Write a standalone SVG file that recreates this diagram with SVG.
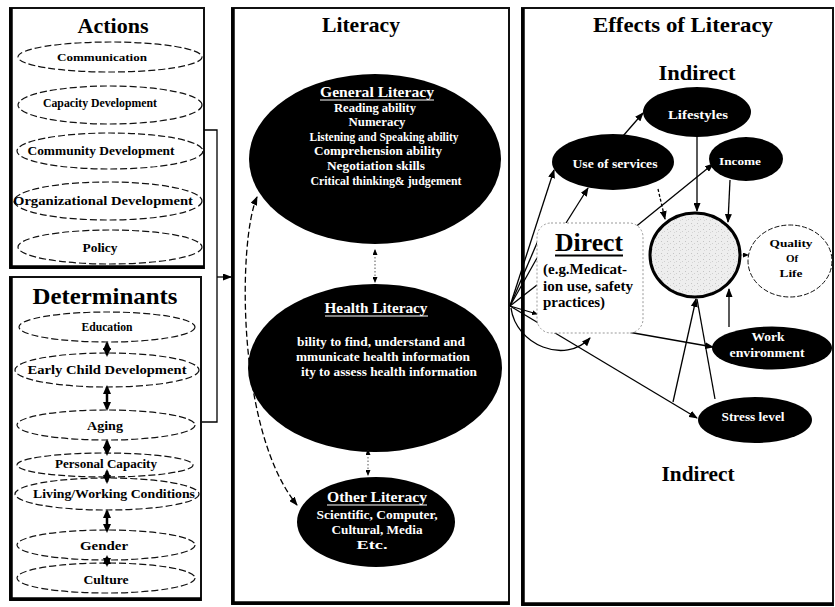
<svg xmlns="http://www.w3.org/2000/svg" width="835" height="607" viewBox="0 0 835 607">
<defs>
<marker id="ah" markerUnits="userSpaceOnUse" markerWidth="9" markerHeight="7" refX="8" refY="3.5" orient="auto-start-reverse"><path d="M0,0 L9,3.5 L0,7 z" fill="#000"/></marker>
<marker id="ahs" markerUnits="userSpaceOnUse" markerWidth="6" markerHeight="5" refX="5" refY="2.5" orient="auto-start-reverse"><path d="M0,0 L6,2.5 L0,5 z" fill="#000"/></marker>
<marker id="ahb" markerUnits="userSpaceOnUse" markerWidth="9" markerHeight="8" refX="7" refY="4" orient="auto-start-reverse"><path d="M0,0 L9,4 L0,8 z" fill="#000"/></marker>
<pattern id="noise" width="6" height="6" patternUnits="userSpaceOnUse"><rect width="6" height="6" fill="#eeeeee"/><rect x="1" y="1" width="1" height="1" fill="#c4c4c4"/><rect x="4" y="3" width="1" height="1" fill="#cfcfcf"/><rect x="2" y="4" width="1" height="1" fill="#d6d6d6"/></pattern>
</defs>
<style>
text{font-family:"Liberation Serif","Times New Roman",serif;font-weight:bold;fill:#000;}
.panel{fill:#fff;stroke:#111;stroke-width:2;}
.thick{stroke:#000;stroke-width:3.5;}
.de{fill:#fff;stroke:#111;stroke-width:1.2;stroke-dasharray:7 3;}
.bk{fill:#000;}
.w{fill:#fff;}
.m{text-anchor:middle;}
.h1{font-size:22px;}
.c{stroke:#000;stroke-width:1.3;fill:none;}
.dot{stroke:#555;stroke-width:1;fill:none;stroke-dasharray:1.5 2;}
.dd{stroke:#000;stroke-width:1.3;fill:none;stroke-dasharray:6 3;}
.da{stroke:#000;stroke-width:2.5;fill:none;}
</style>

<!-- panels -->
<g id="panel-actions">
<rect class="panel" x="10" y="8" width="194" height="260"/>
<line class="thick" x1="11" y1="8" x2="11" y2="268"/>
<line class="thick" x1="10" y1="267" x2="204" y2="267"/>
<text class="m h1" x="113" y="33" textLength="71" lengthAdjust="spacingAndGlyphs">Actions</text>
</g>
<g id="panel-determinants">
<rect class="panel" x="10" y="277" width="191" height="323"/>
<line class="thick" x1="11" y1="277" x2="11" y2="600"/>
<line class="thick" x1="10" y1="599" x2="201" y2="599"/>
<text class="m" x="105" y="304" font-size="24" textLength="145" lengthAdjust="spacingAndGlyphs">Determinants</text>
</g>
<g id="panel-literacy">
<rect class="panel" x="232" y="8" width="277" height="596"/>
<line class="thick" x1="233" y1="8" x2="233" y2="604"/>
<line class="thick" x1="232" y1="603" x2="509" y2="603"/>
<text class="m h1" x="361" y="32" textLength="78" lengthAdjust="spacingAndGlyphs">Literacy</text>
</g>
<g id="panel-effects">
<rect class="panel" x="522" y="8" width="311" height="597"/>
<line class="thick" x1="523" y1="8" x2="523" y2="605"/>
<line class="thick" x1="522" y1="604" x2="833" y2="604"/>
<text class="m h1" x="683" y="32" textLength="180" lengthAdjust="spacingAndGlyphs">Effects of Literacy</text>
<text class="m h1" x="697" y="80" textLength="77" lengthAdjust="spacingAndGlyphs">Indirect</text>
<text class="m h1" x="698" y="481" textLength="73" lengthAdjust="spacingAndGlyphs">Indirect</text>
</g>

<!-- Actions nodes -->
<g id="communication"><ellipse class="de" cx="110" cy="57" rx="92" ry="15"/><text class="m" x="102" y="61" font-size="11" textLength="90" lengthAdjust="spacingAndGlyphs">Communication</text></g>
<g id="capacity-development"><ellipse class="de" cx="110" cy="105" rx="92" ry="19"/><text class="m" x="100" y="107" font-size="12.5" textLength="114" lengthAdjust="spacingAndGlyphs">Capacity Development</text></g>
<g id="community-development"><ellipse class="de" cx="110" cy="151" rx="93" ry="18"/><text class="m" x="101" y="155" font-size="13" textLength="147" lengthAdjust="spacingAndGlyphs">Community Development</text></g>
<g id="organizational-development"><ellipse class="de" cx="108" cy="201" rx="94" ry="19"/><text class="m" x="103" y="205" font-size="13" textLength="180" lengthAdjust="spacingAndGlyphs">Organizational Development</text></g>
<g id="policy"><ellipse class="de" cx="110" cy="247" rx="92" ry="17"/><text class="m" x="100" y="252" font-size="12" textLength="35" lengthAdjust="spacingAndGlyphs">Policy</text></g>

<!-- Determinants nodes -->
<g id="education"><ellipse class="de" cx="107" cy="327" rx="88" ry="15"/><text class="m" x="107" y="331" font-size="12" textLength="51" lengthAdjust="spacingAndGlyphs">Education</text></g>
<g id="early-child-development"><ellipse class="de" cx="107" cy="370" rx="92" ry="17"/><text class="m" x="107" y="374" font-size="12.5" textLength="159" lengthAdjust="spacingAndGlyphs">Early Child Development</text></g>
<g id="aging"><ellipse class="de" cx="106" cy="425" rx="89" ry="15"/><text class="m" x="105" y="430" font-size="12" textLength="36" lengthAdjust="spacingAndGlyphs">Aging</text></g>
<g id="personal-capacity"><ellipse class="de" cx="105" cy="465" rx="88" ry="12"/><text class="m" x="106" y="468" font-size="12" textLength="102" lengthAdjust="spacingAndGlyphs">Personal Capacity</text></g>
<g id="living-working-conditions"><ellipse class="de" cx="107" cy="494" rx="92" ry="16"/><text class="m" x="114" y="498" font-size="12.5" textLength="162" lengthAdjust="spacingAndGlyphs">Living/Working Conditions</text></g>
<g id="gender"><ellipse class="de" cx="106" cy="545" rx="89" ry="15"/><text class="m" x="104" y="550" font-size="12.5" textLength="48" lengthAdjust="spacingAndGlyphs">Gender</text></g>
<g id="culture"><ellipse class="de" cx="106" cy="578" rx="89" ry="15"/><text class="m" x="106" y="584" font-size="12.5" textLength="45" lengthAdjust="spacingAndGlyphs">Culture</text></g>

<!-- Literacy nodes -->
<g id="general-literacy">
<ellipse class="bk" cx="375" cy="159" rx="126" ry="85"/>
<text class="m w" x="377" y="97" font-size="14" textLength="114" lengthAdjust="spacingAndGlyphs">General Literacy</text>
<line x1="320" y1="100" x2="434" y2="100" stroke="#fff" stroke-width="1"/>
<text class="m w" x="375" y="112" font-size="12.5" textLength="82" lengthAdjust="spacingAndGlyphs">Reading ability</text>
<text class="m w" x="377" y="126" font-size="12.5" textLength="57" lengthAdjust="spacingAndGlyphs">Numeracy</text>
<text class="m w" x="384" y="141" font-size="12.5" textLength="149" lengthAdjust="spacingAndGlyphs">Listening and Speaking ability</text>
<text class="m w" x="378" y="155" font-size="12.5" textLength="128" lengthAdjust="spacingAndGlyphs">Comprehension ability</text>
<text class="m w" x="376" y="170" font-size="12.5" textLength="98" lengthAdjust="spacingAndGlyphs">Negotiation skills</text>
<text class="m w" x="386" y="185" font-size="12.5" textLength="151" lengthAdjust="spacingAndGlyphs">Critical thinking&amp; judgement</text>
</g>
<g id="health-literacy">
<ellipse class="bk" cx="375" cy="368" rx="127" ry="84"/>
<text class="m w" x="376" y="313" font-size="14.5" textLength="103" lengthAdjust="spacingAndGlyphs">Health Literacy</text>
<line x1="325" y1="316" x2="428" y2="316" stroke="#fff" stroke-width="1"/>
<text class="w" x="297" y="346" font-size="13" textLength="168" lengthAdjust="spacingAndGlyphs">bility to find, understand and</text>
<text class="w" x="296" y="361" font-size="13" textLength="174" lengthAdjust="spacingAndGlyphs">mmunicate health information</text>
<text class="w" x="301" y="376" font-size="13" textLength="176" lengthAdjust="spacingAndGlyphs">ity to assess health information</text>
</g>
<g id="other-literacy">
<ellipse class="bk" cx="376" cy="522" rx="79" ry="45"/>
<text class="m w" x="377" y="502" font-size="14" textLength="100" lengthAdjust="spacingAndGlyphs">Other Literacy</text>
<line x1="327" y1="505" x2="427" y2="505" stroke="#fff" stroke-width="1"/>
<text class="m w" x="377" y="519" font-size="13" textLength="121" lengthAdjust="spacingAndGlyphs">Scientific, Computer,</text>
<text class="m w" x="377" y="534" font-size="13" textLength="91" lengthAdjust="spacingAndGlyphs">Cultural, Media</text>
<text class="m w" x="372" y="549" font-size="12" textLength="31" lengthAdjust="spacingAndGlyphs">Etc.</text>
</g>

<!-- Effects nodes -->
<g id="lifestyles"><ellipse class="bk" cx="697" cy="112" rx="54" ry="25"/><text class="m w" x="698" y="119" font-size="12" textLength="60" lengthAdjust="spacingAndGlyphs">Lifestyles</text></g>
<g id="use-of-services"><ellipse class="bk" cx="613" cy="162" rx="61" ry="28"/><text class="m w" x="615" y="168" font-size="12" textLength="85" lengthAdjust="spacingAndGlyphs">Use of services</text></g>
<g id="income"><ellipse class="bk" cx="746" cy="159" rx="37" ry="22"/><text class="m w" x="740" y="165" font-size="11" textLength="42" lengthAdjust="spacingAndGlyphs">Income</text></g>
<g id="health-center"><ellipse cx="695" cy="255" rx="45" ry="42" fill="url(#noise)" stroke="#000" stroke-width="3"/></g>
<g id="quality-of-life"><ellipse cx="790" cy="261" rx="42" ry="36" fill="#fff" stroke="#111" stroke-width="1" stroke-dasharray="5 2"/>
<text class="m" x="791" y="247" font-size="11" textLength="43" lengthAdjust="spacingAndGlyphs">Quality</text>
<text class="m" x="792" y="262" font-size="11">Of</text>
<text class="m" x="791" y="277" font-size="11" textLength="23" lengthAdjust="spacingAndGlyphs">Life</text></g>
<g id="work-environment"><ellipse class="bk" cx="772" cy="348" rx="60" ry="21.5"/>
<text class="m w" x="768" y="341" font-size="12" textLength="33" lengthAdjust="spacingAndGlyphs">Work</text>
<text class="m w" x="767" y="357" font-size="12" textLength="75" lengthAdjust="spacingAndGlyphs">environment</text></g>
<g id="stress-level"><ellipse class="bk" cx="755" cy="420" rx="57" ry="23"/><text class="m w" x="753" y="421" font-size="12" textLength="63" lengthAdjust="spacingAndGlyphs">Stress level</text></g>

<!-- connectors -->
<g id="connectors">
<polyline class="c" points="204,130 217,130 217,422 202,422"/>
<line class="c" x1="217" y1="277" x2="231" y2="277" marker-end="url(#ah)"/>
<line class="da" x1="107" y1="343" x2="107" y2="355" marker-start="url(#ahb)" marker-end="url(#ahb)"/>
<line class="da" x1="107" y1="387" x2="107" y2="409" marker-start="url(#ahb)" marker-end="url(#ahb)"/>
<line class="da" x1="107" y1="441" x2="107" y2="454" marker-start="url(#ahb)" marker-end="url(#ahb)"/>
<line class="da" x1="107" y1="471" x2="107" y2="482" marker-start="url(#ahb)" marker-end="url(#ahb)"/>
<line class="da" x1="107" y1="511" x2="107" y2="531" marker-start="url(#ahb)" marker-end="url(#ahb)"/>
<line class="da" x1="107" y1="557" x2="107" y2="565" marker-start="url(#ahb)" marker-end="url(#ahb)"/>
<line class="dot" x1="375" y1="250" x2="375" y2="282" marker-start="url(#ahs)" marker-end="url(#ahs)"/>
<line class="dot" x1="368" y1="450" x2="368" y2="475" marker-start="url(#ahs)" marker-end="url(#ahs)"/>
<path class="dd" d="M257,197 C238,240 236,430 297,505" marker-start="url(#ah)" marker-end="url(#ah)"/>
<line class="c" x1="510" y1="306" x2="554" y2="170" marker-end="url(#ah)"/>
<line class="c" x1="510" y1="306" x2="543" y2="229"/>
<line class="c" x1="510" y1="306" x2="537" y2="258"/>
<line class="c" x1="510" y1="306" x2="537" y2="285"/>
<line class="c" x1="510" y1="306" x2="537" y2="314" marker-end="url(#ahs)"/>
<line class="c" x1="510" y1="306" x2="697" y2="418" marker-end="url(#ah)"/>
<path class="c" d="M511,308 C516,345 565,365 590,338" marker-end="url(#ah)"/>
<line class="c" x1="566" y1="223" x2="588" y2="188" marker-end="url(#ah)"/>
<line class="c" x1="628" y1="233" x2="713" y2="164" marker-end="url(#ah)"/>
<line class="c" x1="628" y1="332" x2="713" y2="347" marker-end="url(#ah)"/>
<line class="c" x1="623" y1="136" x2="643" y2="113" marker-end="url(#ah)"/>
<line class="c" x1="658" y1="189" x2="665" y2="219" stroke-dasharray="3 2" marker-end="url(#ah)"/>
<line class="c" x1="697" y1="137" x2="697" y2="211" marker-end="url(#ah)"/>
<line class="c" x1="730" y1="180" x2="728" y2="222" marker-end="url(#ah)"/>
<line class="c" x1="729" y1="327" x2="729" y2="289" marker-end="url(#ah)"/>
<line class="c" x1="673" y1="402" x2="696" y2="299" marker-end="url(#ah)"/>
<line class="c" x1="697" y1="299" x2="715" y2="399"/>
<line class="dot" x1="741" y1="255" x2="748" y2="255" marker-end="url(#ahs)"/>
</g>

<g id="direct">
<rect x="537" y="223" width="106" height="110" rx="14" fill="#fff" stroke="#999" stroke-width="1" stroke-dasharray="2 2"/>
<text class="m" x="589" y="251" font-size="25" textLength="68" lengthAdjust="spacingAndGlyphs">Direct</text>
<line x1="555" y1="255.5" x2="623" y2="255.5" stroke="#000" stroke-width="2"/>
<text x="543" y="274" font-size="14" font-weight="normal" textLength="84" lengthAdjust="spacingAndGlyphs">(e.g.Medicat-</text>
<text x="543" y="291" font-size="14" font-weight="normal" textLength="90" lengthAdjust="spacingAndGlyphs">ion use, safety</text>
<text x="543" y="307" font-size="14" font-weight="normal" textLength="62" lengthAdjust="spacingAndGlyphs">practices)</text>
</g>
</svg>
